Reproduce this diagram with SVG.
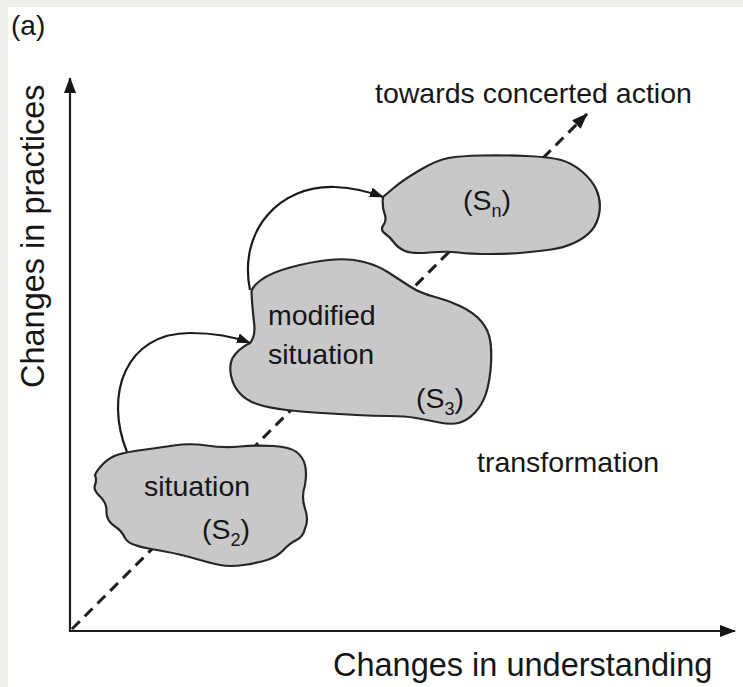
<svg xmlns="http://www.w3.org/2000/svg" width="743" height="687" viewBox="0 0 743 687">
  <style>
    text { font-family: "Liberation Sans", Arial, sans-serif; fill: #161616; }
    .axis-label { font-size: 32.5px; }
    .label { font-size: 28.5px; }
    .tag { font-size: 28px; }
    .blob { fill: #c8c8c8; stroke: #262626; stroke-width: 2.2; stroke-linejoin: round; }
    .axis { stroke: #1e1e1e; stroke-width: 2.2; fill: none; }
    .flow { stroke: #1a1a1a; stroke-width: 2.2; fill: none; }
    .trend { stroke: #1e1e1e; stroke-width: 3; fill: none; stroke-dasharray: 11 7; }
  </style>
  <defs>
    <marker id="head" markerUnits="userSpaceOnUse" markerWidth="18" markerHeight="14" refX="15" refY="6" orient="auto">
      <path d="M0,0 L16,6 L0,12 Z" fill="#161616" stroke="none"/>
    </marker>
    <marker id="head-small" markerUnits="userSpaceOnUse" markerWidth="18" markerHeight="12" refX="13" refY="5" orient="auto">
      <path d="M0,0 L14,5 L0,10 Z" fill="#161616" stroke="none"/>
    </marker>
  </defs>

  <!-- page -->
  <rect x="0" y="0" width="743" height="687" fill="#eef1e9"/>
  <rect x="8" y="7" width="735" height="680" fill="#ffffff"/>

  <text class="tag" x="11" y="35">(a)</text>

  <!-- axes, trend line and steps between situations -->
  <g id="connectors">
    <line class="axis" x1="70" y1="632" x2="70" y2="78" marker-end="url(#head)"/>
    <line class="axis" x1="69" y1="631" x2="735" y2="631" marker-end="url(#head)"/>
    <line class="trend" x1="72" y1="629" x2="587" y2="114" marker-end="url(#head)"/>
    <path id="step-1" class="flow" d="M127,452 C 104,395 125,333 190,333 C 215,333 235,337 250,343" marker-end="url(#head-small)"/>
    <path id="step-2" class="flow" d="M250,290 C 238,230 280,185 335,187 C 355,188 370,192 383,197" marker-end="url(#head-small)"/>
  </g>

  <!-- axis labels -->
  <text class="axis-label" transform="translate(44,388) rotate(-90)">Changes in practices</text>
  <text class="axis-label" x="333" y="676">Changes in understanding</text>
  <text class="label" x="375" y="103">towards concerted action</text>
  <text class="label" x="477" y="472">transformation</text>

  <!-- situation S2 -->
  <g id="s2">
    <path class="blob" d="M95,475 Q97,470 103.5,463.5 Q110,457 118.5,454.5 Q127,452 142,450 Q157,448 173.5,445.5 Q190,443 206.5,445.5 Q223,448 240,446.5 Q257,445 273.5,446 Q290,447 296.5,452 Q303,457 305,465 Q307,473 305,485 Q301,497 305,508.5 Q309,520 305,528.5 Q303,537 296.5,540 Q290,543 283.5,550 Q277,557 267,560 Q257,563 243.5,565 Q230,567 220,565 Q210,563 200,560 Q190,557 181.5,555 Q173,553 165,551.5 Q157,550 148.5,548.5 Q140,547 135,545 Q128,543 125,538 Q122,531 115,526.5 Q106,520 106.5,511.5 Q107,503 100,496.5 Q93,490 95,485 Q97,480 95,475 Z"/>
    <text class="label" x="144" y="496">situation</text>
    <text class="label" x="202" y="539">(S<tspan style="font-size:18px" dy="7">2</tspan><tspan dy="-7">)</tspan></text>
  </g>

  <!-- modified situation S3 -->
  <g id="s3">
    <path class="blob" d="M251.5,291.5 Q252,287 261,280 Q270,273 290,267.5 Q310,262 328.5,260 Q347,258 362,261.5 Q377,265 388.5,272.5 Q400,280 410,286.5 Q420,293 433.5,296.5 Q447,300 460,306 Q473,312 481,321 Q489,330 490.5,342.5 Q492,355 490.5,370 Q489,385 485.5,395 Q482,405 475,412.5 Q468,420 460,422.5 Q452,425 439.5,422.5 Q427,420 416,418 Q405,416 389,416 Q373,416 356.5,415 Q340,414 321.5,413 Q303,412 286.5,410 Q270,408 258.5,404.5 Q247,401 240,393.5 Q233,386 231,375.5 Q229,365 232.5,358 Q238,349 250,343 Q256,336 254,322 Q252,305 251.5,291.5 Z"/>
    <text class="label" x="268" y="325">modified</text>
    <text class="label" x="268" y="364">situation</text>
    <text class="label" x="416" y="408">(S<tspan style="font-size:18px" dy="7">3</tspan><tspan dy="-7">)</tspan></text>
  </g>

  <!-- situation Sn -->
  <g id="sn">
    <path class="blob" d="M383,197 L393,188.5 Q403,180 420,170 Q437,160 448.5,158 Q460,156 481.5,155.5 Q503,155 526.5,156 Q550,157 561,160 Q572,163 582,171.5 Q592,180 596.5,190 Q601,200 599.5,211.5 Q598,223 591.5,230.5 Q585,238 574,243 Q563,248 551.5,249.5 Q540,251 525,252.5 Q510,254 490,254 Q470,254 458.5,252.5 Q447,251 429.5,252.5 Q412,254 405,251 Q398,248 394,242.5 Q390,237 385,233.5 Q380,230 383.5,225 Q387,220 384.5,213.5 Q382,207 383,197 Z"/>
    <text class="label" x="463" y="210">(S<tspan style="font-size:18px" dy="7">n</tspan><tspan dy="-7">)</tspan></text>
  </g>
</svg>
